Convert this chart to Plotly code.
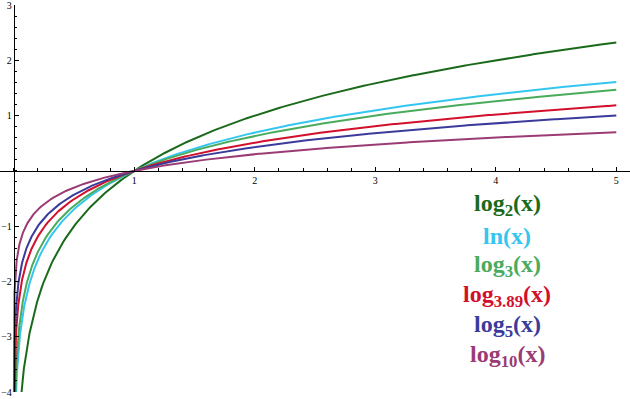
import numpy as np
import plotly.graph_objects as go

# ---- data ----
names = ["log<sub>2</sub>(x)", "ln(x)", "log<sub>3</sub>(x)", "log<sub>3.89</sub>(x)",
         "log<sub>5</sub>(x)", "log<sub>10</sub>(x)"]
bases = [2.0, float(np.e), 3.0, 3.89, 5.0, 10.0]
colors = ["#1b6a1b", "#35c6f0", "#4aab5c", "#d2102c", "#3b3b9b", "#9b3b74"]
x_ticks = [1, 2, 3, 4, 5]
y_ticks = [-4, -3, -2, -1, 1, 2, 3]

# ---- layout constants ----
W, H = 630, 399
M_T, M_B = 5, 7
X0_PX = 13.8           # pixel of x = 0
PX_PER_X = 120.5
x_range = [-X0_PX / PX_PER_X, (W - X0_PX) / PX_PER_X]
y_range = [-4, 3]

fig = go.Figure()
for name, b, c in zip(names, bases, colors):
    xs = np.concatenate([np.geomspace(b ** -4.3, 0.2, 300), np.linspace(0.2, 5, 300)[1:]])
    ys = np.log(xs) / np.log(b)
    fig.add_trace(go.Scatter(x=xs, y=ys, mode="lines", name=name,
                             line=dict(color=c, width=2), hoverinfo="skip"))

label_x = (507 - X0_PX) / PX_PER_X
label_py = [205, 236, 266, 296, 326, 356]
ppu = (H - M_T - M_B) / (y_range[1] - y_range[0])
for name, c, py in zip(names, colors, label_py):
    fig.add_annotation(x=label_x, y=y_range[1] - (py - M_T) / ppu, xref="x", yref="y",
                       text="<b>" + name + "</b>", showarrow=False,
                       xanchor="center", yanchor="middle",
                       font=dict(family="Liberation Serif, Times New Roman, serif",
                                 size=24, color=c))

tickfont = dict(family="Liberation Serif, Times New Roman, serif", size=10, color="black")
common = dict(domain=[0, 1], anchor="free", automargin=False, ticklabeloverflow="allow",
              showgrid=False, zeroline=False, showline=True, linecolor="black", linewidth=1,
              ticks="inside", ticklen=4, tickwidth=1, tickcolor="black", tickfont=tickfont,
              minor=dict(dtick=0.2, tick0=0, ticks="inside", ticklen=2.5, tickcolor="black",
                         showgrid=False))
fig.update_layout(
    width=W, height=H,
    margin=dict(l=0, r=0, t=M_T, b=M_B, pad=0, autoexpand=False),
    paper_bgcolor="white", plot_bgcolor="white",
    showlegend=False,
    xaxis=dict(range=x_range, position=(0 - y_range[0]) / (y_range[1] - y_range[0]),
               tickvals=x_ticks, ticktext=[str(v) for v in x_ticks], **common),
    yaxis=dict(range=y_range, position=X0_PX / W,
               tickvals=y_ticks, ticktext=[str(v).replace("-", "\u2212") for v in y_ticks],
               **common),
)

fig.write_html("out.html", config={"displayModeBar": False},
               post_script="document.body.style.margin='0';document.body.style.overflow='hidden';")
